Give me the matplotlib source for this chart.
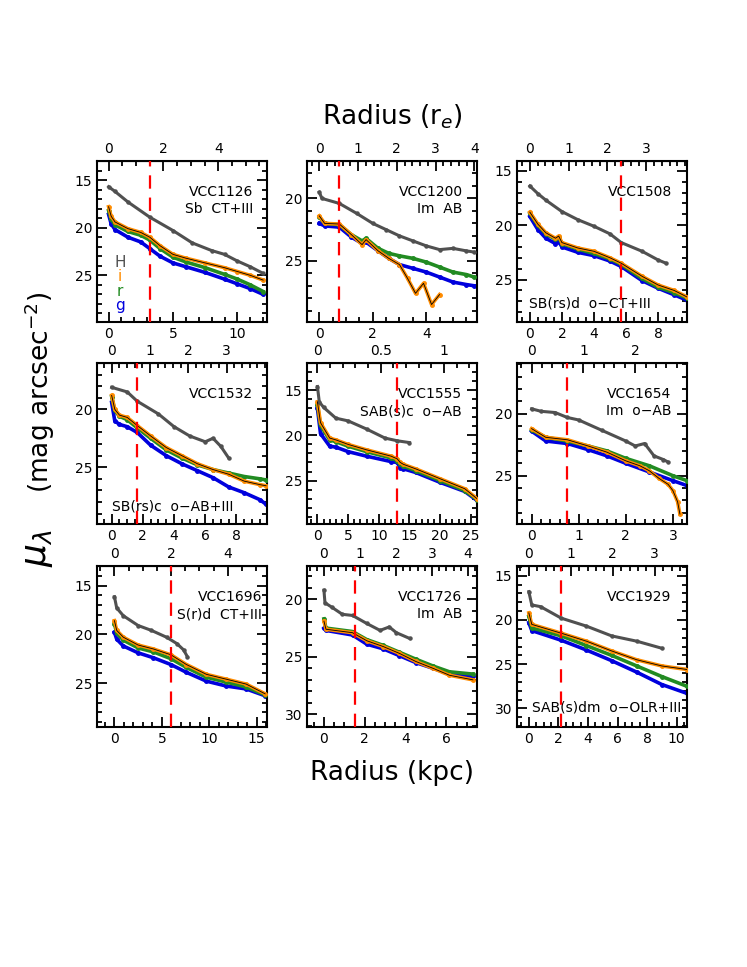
import numpy as np
import matplotlib
matplotlib.use('Agg')
import matplotlib.pyplot as plt
from matplotlib.ticker import MultipleLocator, FixedLocator, FormatStrFormatter

# ---- profile data (radius in kpc, surface brightness in mag/arcsec^2) ----
# VCC1126
radH_1126 = [0, 0.5, 1.5, 3.2, 5, 6.5, 8, 9, 10, 11, 12]
H_1126 = [15.7, 16.2, 17.3, 18.9, 20.3, 21.6, 22.4, 22.8, 23.5, 24.1, 24.8]
rad_1126 = [0, 0.2, 0.5, 1.5, 2.5, 3.2, 4, 5, 6, 7.5, 9, 10, 11, 12]
i_1126 = [17.8, 18.8, 19.4, 20.1, 20.5, 21.0, 21.9, 22.8, 23.2, 23.7, 24.2, 24.6, 25.0, 25.5]
r_1126 = [18.2, 19.1, 19.7, 20.4, 20.8, 21.3, 22.2, 23.1, 23.6, 24.2, 24.9, 25.4, 26.0, 26.7]
g_1126 = [18.6, 19.6, 20.2, 21.0, 21.5, 22.2, 23.0, 23.7, 24.1, 24.7, 25.4, 25.9, 26.4, 27.0]

# VCC1200
radH_1200 = [0, 0.1, 0.75, 1.4, 2, 2.5, 3, 3.5, 4, 4.5, 5, 5.5, 5.8]
H_1200 = [19.5, 20.0, 20.4, 21.2, 22.0, 22.5, 23.0, 23.4, 23.8, 24.1, 24.0, 24.2, 24.3]
radI_1200 = [0, 0.2, 0.75, 1.2, 1.6, 1.75, 2.2, 2.6, 3.0, 3.3, 3.6, 3.9, 4.2, 4.5]
i_1200 = [21.4, 22.0, 22.05, 22.9, 23.7, 23.3, 24.2, 24.8, 25.3, 26.4, 27.6, 26.8, 28.5, 27.7]
rad_1200 = [0, 0.2, 0.75, 1.2, 1.6, 1.75, 2.2, 2.6, 3.0, 3.5, 4, 4.5, 5, 5.5, 5.8]
r_1200 = [21.5, 22.0, 22.1, 22.9, 23.4, 23.2, 24.0, 24.4, 24.6, 24.8, 25.1, 25.5, 25.9, 26.1, 26.3]
g_1200 = [22.0, 22.2, 22.3, 23.1, 23.6, 23.5, 24.2, 24.8, 25.3, 25.6, 25.9, 26.3, 26.7, 26.9, 27.0]

# VCC1508
radH_1508 = [0, 0.5, 1, 2, 3, 4, 5, 5.7, 7, 8, 8.5]
H_1508 = [16.4, 17.1, 17.7, 18.75, 19.5, 20.1, 20.8, 21.6, 22.4, 23.2, 23.5]
rad_1508 = [0, 0.5, 1, 1.6, 1.8, 2, 3, 4, 5, 5.7, 7, 8, 9, 9.8]
i_1508 = [18.8, 19.9, 20.7, 21.2, 21.0, 21.6, 22.1, 22.4, 23.0, 23.5, 24.7, 25.5, 26.0, 26.6]
r_1508 = [18.9, 20.0, 20.8, 21.3, 21.1, 21.7, 22.2, 22.6, 23.1, 23.6, 24.9, 25.7, 26.2, 26.7]
g_1508 = [19.2, 20.4, 21.2, 21.7, 21.5, 22.0, 22.5, 22.8, 23.3, 23.8, 25.1, 25.8, 26.4, 26.9]

# VCC1532
radH_1532 = [0, 1, 1.64, 3, 4, 5, 6, 6.5, 7, 7.5]
H_1532 = [18.1, 18.5, 19.3, 20.4, 21.5, 22.3, 22.8, 22.5, 23.2, 24.2]
rad_1532 = [0, 0.2, 0.5, 1, 1.64, 2.5, 3.5, 4.5, 5.5, 6.5, 7.5, 8.5, 9.5, 9.9]
i_1532 = [18.8, 20.0, 20.5, 20.7, 21.4, 22.3, 23.3, 24.0, 24.7, 25.2, 25.6, 26.2, 26.5, 26.6]
r_1532 = [18.9, 20.1, 20.6, 20.9, 21.6, 22.5, 23.5, 24.2, 24.8, 25.2, 25.5, 25.8, 26.0, 26.1]
g_1532 = [19.4, 21.0, 21.3, 21.5, 22.0, 23.1, 24.0, 24.7, 25.3, 25.9, 26.7, 27.2, 27.8, 28.2]

# VCC1555
radH_1555 = [0, 0.3, 1, 3, 5, 8, 11, 13, 15]
H_1555 = [14.6, 16.3, 16.9, 18.1, 18.4, 19.3, 20.3, 20.6, 20.8]
rad_1555 = [0, 0.5, 2, 3, 5, 8, 12, 13, 13.5, 14, 16, 20, 24, 26]
i_1555 = [16.3, 18.6, 20.3, 20.5, 21.0, 21.6, 22.3, 22.6, 23.0, 23.2, 23.7, 24.8, 25.9, 27.0]
r_1555 = [16.6, 18.9, 20.5, 20.7, 21.2, 21.8, 22.5, 22.8, 23.2, 23.4, 23.9, 25.0, 26.1, 27.1]
g_1555 = [17.0, 19.8, 21.2, 21.3, 21.8, 22.3, 22.9, 23.0, 23.6, 23.7, 24.1, 25.2, 26.2, 27.2]

# VCC1654
radH_1654 = [0, 0.2, 0.5, 0.76, 1, 1.5, 2, 2.2, 2.4, 2.6, 2.8, 2.9]
H_1654 = [19.6, 19.8, 19.9, 20.3, 20.5, 21.35, 22.2, 22.6, 22.4, 23.4, 23.7, 23.9]
radI_1654 = [0, 0.3, 0.76, 1.2, 1.6, 2.0, 2.3, 2.5, 2.7, 2.9, 3.0, 3.1, 3.15]
i_1654 = [21.2, 21.9, 22.1, 22.6, 23.1, 23.8, 24.2, 24.6, 25.2, 25.7, 26.2, 27.1, 28.1]
rad_1654 = [0, 0.3, 0.76, 1.2, 1.6, 2.0, 2.5, 3.0, 3.3]
r_1654 = [21.3, 21.9, 22.2, 22.6, 23.0, 23.6, 24.2, 25.0, 25.4]
g_1654 = [21.4, 22.2, 22.4, 22.9, 23.4, 24.0, 24.7, 25.4, 25.8]

# VCC1696
radH_1696 = [0, 0.24, 0.94, 2.5, 3.9, 5.5, 6.6, 7.3, 7.7]
H_1696 = [16.15, 17.3, 18.1, 19.1, 19.6, 20.3, 20.96, 21.6, 22.3]
rad_1696 = [0, 0.24, 0.94, 2.5, 4.1, 5.96, 7.6, 9.7, 11.8, 13.9, 15.9]
i_1696 = [18.6, 19.6, 20.3, 21.1, 21.5, 22.1, 23.1, 24.1, 24.6, 25.1, 26.1]
r_1696 = [18.9, 19.9, 20.6, 21.4, 21.8, 22.5, 23.4, 24.4, 24.9, 25.4, 26.2]
g_1696 = [19.8, 20.5, 21.2, 21.9, 22.4, 23.1, 23.9, 24.8, 25.3, 25.6, 26.3]

# VCC1726
radH_1726 = [0, 0.05, 0.4, 0.9, 1.4, 2.1, 2.75, 3.2, 3.55, 4.2]
H_1726 = [19.2, 20.3, 20.7, 21.3, 21.4, 22.1, 22.7, 22.4, 22.9, 23.4]
rad_1726 = [0, 0.1, 1.4, 2.1, 2.9, 3.7, 4.5, 5.35, 6.15, 7.3]
i_1726 = [21.9, 22.6, 22.9, 23.6, 24.1, 24.7, 25.4, 26.0, 26.6, 27.0]
r_1726 = [21.7, 22.5, 22.8, 23.5, 24.0, 24.6, 25.2, 25.8, 26.3, 26.5]
g_1726 = [22.5, 22.7, 23.1, 23.9, 24.3, 24.9, 25.5, 26.0, 26.5, 26.7]

# VCC1929
radH_1929 = [0, 0.2, 0.8, 2.2, 3.9, 5.6, 7.3, 9.0]
H_1929 = [16.8, 18.3, 18.5, 19.8, 20.7, 21.8, 22.4, 23.2]
rad_1929 = [0, 0.2, 2.2, 3.9, 5.6, 7.3, 9.0, 10.7]
i_1929 = [19.2, 20.5, 21.5, 22.4, 23.5, 24.5, 25.2, 25.6]
r_1929 = [19.6, 20.9, 21.8, 22.9, 24.0, 25.2, 26.4, 27.5]
g_1929 = [20.3, 21.2, 22.3, 23.4, 24.6, 25.9, 27.3, 28.3]

names = ['VCC1126', 'VCC1200', 'VCC1508', 'VCC1532', 'VCC1555',
         'VCC1654', 'VCC1696', 'VCC1726', 'VCC1929']
types = ['Sb  CT+III', 'Im  AB', 'SB(rs)d  o\u2212CT+III', 'SB(rs)c  o\u2212AB+III',
         'SAB(s)c  o\u2212AB', 'Im  o\u2212AB', 'S(r)d  CT+III', 'Im  AB',
         'SAB(s)dm  o\u2212OLR+III']
r_eff = [2.13, 1.45, 2.42, 2.46, 20.6, 1.1, 2.99, 1.765, 2.84]   # kpc per r_e
r_break = [3.2, 0.75, 5.67, 1.64, 13.0, 0.76, 5.96, 1.51, 2.2]  # red dashed line
top_ticks = [[0, 2, 4], [0, 1, 2, 3, 4], [0, 1, 2, 3], [0, 1, 2, 3], [0, 0.5, 1],
             [0, 1, 2], [0, 2, 4], [0, 1, 2, 3, 4], [0, 1, 2, 3]]

panels = [
    dict(rH=radH_1126, H=H_1126, ri=rad_1126, i=i_1126, rad=rad_1126, r=r_1126, g=g_1126,
         xlim=(-0.9, 12.3), ylim=(29.9, 13.0), xt=5, xm=1, tm=0.5),
    dict(rH=radH_1200, H=H_1200, ri=radI_1200, i=i_1200, rad=rad_1200, r=r_1200, g=g_1200,
         xlim=(-0.46, 5.9), ylim=(29.9, 17.0), xt=2, xm=0.5, tm=0.2),
    dict(rH=radH_1508, H=H_1508, ri=rad_1508, i=i_1508, rad=rad_1508, r=r_1508, g=g_1508,
         xlim=(-0.8, 9.8), ylim=(28.9, 14.1), xt=2, xm=0.5, tm=0.2),
    dict(rH=radH_1532, H=H_1532, ri=rad_1532, i=i_1532, rad=rad_1532, r=r_1532, g=g_1532,
         xlim=(-0.94, 9.96), ylim=(29.9, 16.0), xt=2, xm=0.5, tm=0.2),
    dict(rH=radH_1555, H=H_1555, ri=rad_1555, i=i_1555, rad=rad_1555, r=r_1555, g=g_1555,
         xlim=(-1.7, 26.0), ylim=(29.8, 12.0), xt=5, xm=1, tm=0.1),
    dict(rH=radH_1654, H=H_1654, ri=radI_1654, i=i_1654, rad=rad_1654, r=r_1654, g=g_1654,
         xlim=(-0.31, 3.3), ylim=(28.9, 15.9), xt=1, xm=0.2, tm=0.2),
    dict(rH=radH_1696, H=H_1696, ri=rad_1696, i=i_1696, rad=rad_1696, r=r_1696, g=g_1696,
         xlim=(-1.84, 16.1), ylim=(29.5, 13.0), xt=5, xm=1, tm=0.5),
    dict(rH=radH_1726, H=H_1726, ri=rad_1726, i=i_1726, rad=rad_1726, r=r_1726, g=g_1726,
         xlim=(-0.83, 7.5), ylim=(31.1, 17.1), xt=2, xm=0.5, tm=0.2),
    dict(rH=radH_1929, H=H_1929, ri=rad_1929, i=i_1929, rad=rad_1929, r=r_1929, g=g_1929,
         xlim=(-0.8, 10.7), ylim=(32.1, 13.9), xt=2, xm=0.5, tm=0.2),
]

# type text placement: (x, y, ha) in axes fraction, None = under the name
type_pos = [None, None, (0.07, 0.115, 'left'), (0.086, 0.11, 'left'), None, None,
            None, None, (0.09, 0.12, 'left')]
name_x = [0.92, 0.915, 0.915, 0.92, 0.91, 0.906, 0.97, 0.915, 0.91]

cH, ci, cr, cg = '#505050', '#ff8c00', '#228b22', '#0000dd'

W, Hpx = 747, 967
fig = plt.figure(figsize=(W / 100, Hpx / 100), dpi=100)
col_left = [97, 307, 517]
row_top = [161, 363, 566]
pw, ph = 170, 161

for k, p in enumerate(panels):
    row, col = divmod(k, 3)
    ax = fig.add_axes([col_left[col] / W, 1 - (row_top[row] + ph) / Hpx, pw / W, ph / Hpx])

    ax.plot(p['rad'], p['g'], '-o', color=cg, lw=2.6, ms=2.5, zorder=2)
    ax.plot(p['rad'], p['r'], '-o', color=cr, lw=2.6, ms=2.5, zorder=3)
    ax.plot(p['ri'], p['i'], '-o', color=ci, lw=2.6, ms=2.5, zorder=4)
    ax.plot(p['ri'], p['i'], '-', color='black', lw=0.6, zorder=5)
    ax.plot(p['rH'], p['H'], '-o', color=cH, lw=2.2, ms=2.2, zorder=4)
    ax.axvline(r_break[k], color='red', ls=(0, (6, 4)), lw=1.6, zorder=6)

    ax.set_xlim(*p['xlim'])
    ax.set_ylim(*p['ylim'])
    ax.xaxis.set_major_locator(MultipleLocator(p['xt']))
    ax.xaxis.set_minor_locator(MultipleLocator(p['xm']))
    ax.yaxis.set_major_locator(MultipleLocator(5))
    ax.yaxis.set_minor_locator(MultipleLocator(1))
    ax.tick_params(which='both', direction='in', top=False, right=True, labelsize=10, width=1.3)
    ax.tick_params(which='major', length=7)
    ax.tick_params(which='minor', length=3.5)
    for s in ax.spines.values():
        s.set_linewidth(1.5)

    re = r_eff[k]
    sec = ax.secondary_xaxis('top', functions=(lambda x, re=re: x / re, lambda x, re=re: x * re))
    sec.xaxis.set_major_locator(FixedLocator(top_ticks[k]))
    sec.xaxis.set_major_formatter(FormatStrFormatter('%g'))
    sec.xaxis.set_minor_locator(MultipleLocator(p['tm']))
    sec.tick_params(which='both', direction='in', labelsize=10, width=1.3)
    sec.tick_params(which='major', length=7)
    sec.tick_params(which='minor', length=3.5)

    ax.text(name_x[k], 0.81, names[k], transform=ax.transAxes, ha='right', va='center', fontsize=10)
    if type_pos[k] is None:
        ax.text(name_x[k], 0.70, types[k], transform=ax.transAxes, ha='right', va='center', fontsize=10)
    else:
        tx, ty, ha = type_pos[k]
        ax.text(tx, ty, types[k], transform=ax.transAxes, ha=ha, va='center', fontsize=10,
                bbox=dict(facecolor='white', edgecolor='none', pad=0.5))

    if k == 0:
        for lab, c, yy in zip(['H', 'i', 'r', 'g'], [cH, ci, cr, cg], [0.367, 0.283, 0.19, 0.105]):
            ax.text(0.135, yy, lab, color=c, transform=ax.transAxes, ha='center', va='center', fontsize=11)

fig.text(392 / W, 1 - 117 / Hpx, 'Radius (r$_e$)', ha='center', va='center', fontsize=19)
fig.text(392 / W, 1 - 773 / Hpx, 'Radius (kpc)', ha='center', va='center', fontsize=19)
fig.text(38 / W, 1 - 548 / Hpx, r'$\mu_\lambda$', ha='center', va='center',
         fontsize=26, rotation=90)
fig.text(40 / W, 1 - 392 / Hpx, '(mag arcsec$^{-2}$)', ha='center', va='center',
         fontsize=19, rotation=90)

fig.savefig('out.png', dpi=100)
